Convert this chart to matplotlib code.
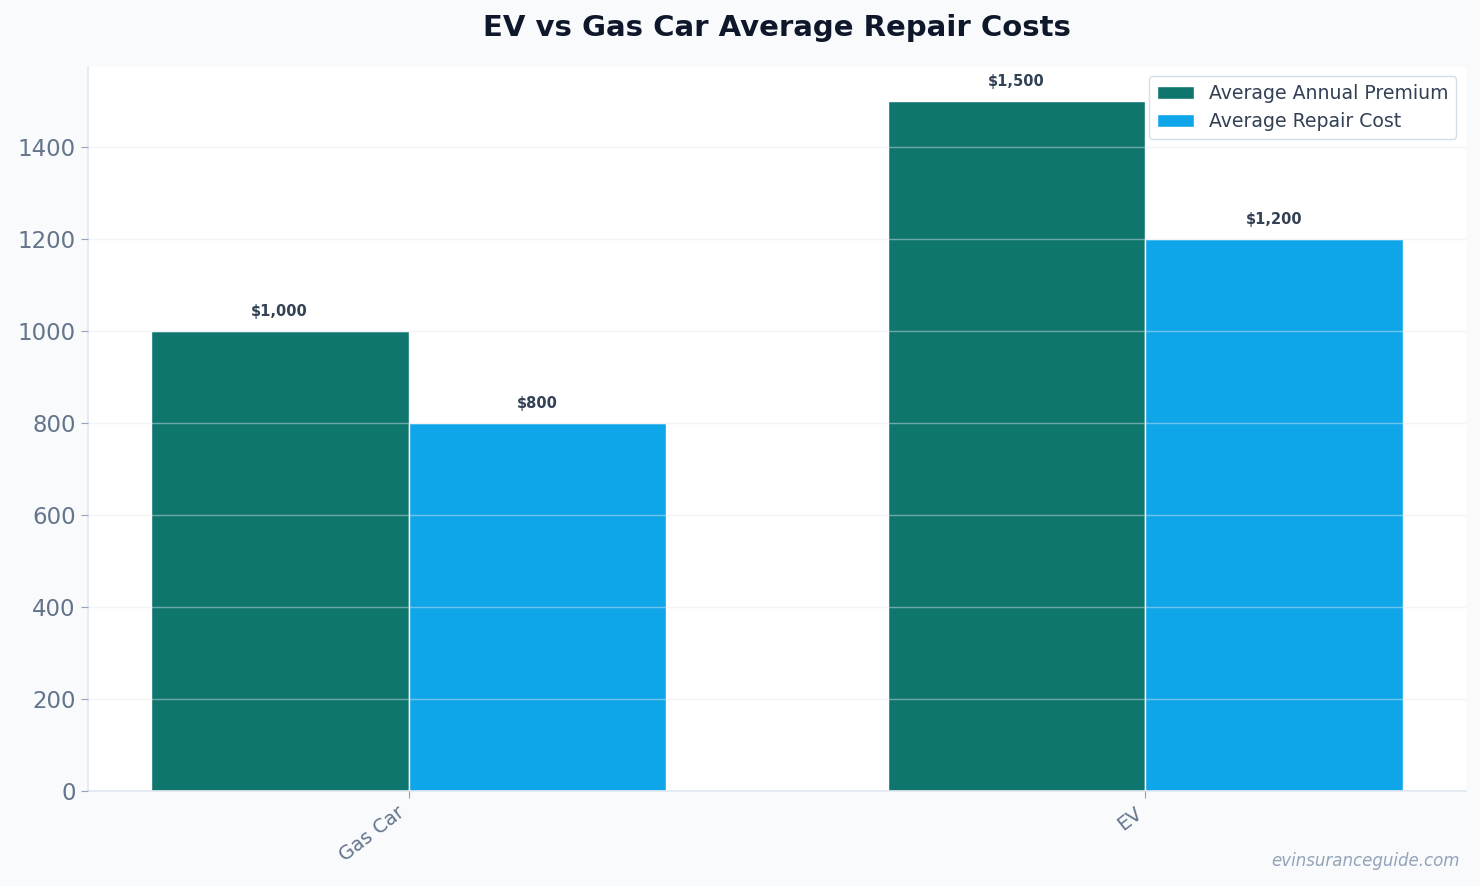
import matplotlib.pyplot as plt
import numpy as np

categories = ["Gas Car", "EV"]
premium = [1000, 1500]
repair = [800, 1200]
series_names = ["Average Annual Premium", "Average Repair Cost"]

TEAL = "#0f766e"
BLUE = "#0ea5e9"
BG = "#f8fafc"


def main():
    fig, ax = plt.subplots(figsize=(14.8, 8.86), dpi=100)
    fig.patch.set_facecolor(BG)
    ax.set_facecolor("white")

    x = np.arange(len(categories))
    width = 0.35

    bars1 = ax.bar(x - width / 2, premium, width, color=TEAL,
                   edgecolor="white", linewidth=1, label=series_names[0])
    bars2 = ax.bar(x + width / 2, repair, width, color=BLUE,
                   edgecolor="white", linewidth=1, label=series_names[1])

    for bars in (bars1, bars2):
        for b in bars:
            h = b.get_height()
            ax.annotate(f"${h:,.0f}", (b.get_x() + b.get_width() / 2, h),
                        xytext=(0, 9), textcoords="offset points",
                        ha="center", va="bottom", fontsize=10.5,
                        fontweight="bold", color="#334155")

    ax.set_ylim(0, 1575)
    ax.set_xticks(x)
    ax.set_xticklabels(categories, rotation=38, ha="right", fontsize=14,
                       color="#64748b")
    ax.tick_params(axis="y", labelsize=16.5, labelcolor="#64748b",
                   color="#94a3b8", length=5, pad=4)
    ax.tick_params(axis="x", color="#94a3b8", length=5)

    # grid drawn over the bars, faint
    ax.set_axisbelow(False)
    ax.yaxis.grid(True, color="#e2e8f0", alpha=0.45, linewidth=1)

    for s in ("top", "right"):
        ax.spines[s].set_visible(False)
    for s in ("left", "bottom"):
        ax.spines[s].set_color("#e2e8f0")
        ax.spines[s].set_linewidth(1.2)

    leg = ax.legend(loc="upper right", fontsize=13.6, frameon=True,
                    fancybox=True, borderaxespad=0.5)
    leg.get_frame().set_edgecolor("#cbd5e1")
    leg.get_frame().set_facecolor("white")
    for t in leg.get_texts():
        t.set_color("#334155")

    ax.set_title("EV vs Gas Car Average Repair Costs", fontsize=21,
                 fontweight="bold", color="#0f172a", pad=22)

    fig.text(0.986, 0.018, "evinsuranceguide.com", ha="right", va="bottom",
             fontsize=12, style="italic", color="#94a3b8")

    fig.subplots_adjust(left=0.0595, right=0.9905, top=0.9245, bottom=0.107)
    fig.savefig("out.png", dpi=100, facecolor=BG)


if __name__ == "__main__":
    main()
